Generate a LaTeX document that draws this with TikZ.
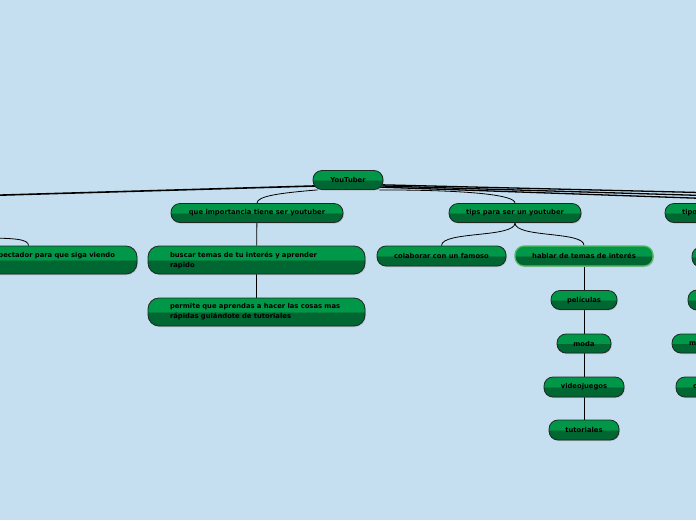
\documentclass[tikz,border=0pt]{standalone}
\usepackage{fontspec}
\usepackage{tikz}
\usetikzlibrary{shadows, backgrounds}

\newfontfamily\mapfont{DejaVu Sans}
\definecolor{bgblue}{RGB}{197,223,241}
\definecolor{gtop}{RGB}{0,152,72}
\definecolor{gbot}{RGB}{0,102,50}
\definecolor{edgeline}{RGB}{28,40,34}
\definecolor{selgreen}{RGB}{86,186,96}
\pgfdeclareverticalshading{glossy}{100bp}{color(0bp)=(gbot); color(49.5bp)=(gbot); color(50.5bp)=(gtop); color(100bp)=(gtop)}

\tikzset{
  topic/.style={draw=edgeline, line width=0.8pt, rounded corners=9pt, shading=glossy,
    minimum height=19pt, inner xsep=4pt, inner ysep=0pt, text=black,
    font=\mapfont\bfseries\fontsize{6.8}{10}\selectfont,
    drop shadow={opacity=0.35, shadow xshift=0.8pt, shadow yshift=-1pt}},
  widetopic/.style={topic, minimum height=28pt, text width=173pt, inner xsep=22pt, rounded corners=11pt},
  link/.style={draw=black, line width=0.8pt},
  trunk/.style={draw=black, line width=1.6pt}
}

\begin{document}
\begin{tikzpicture}[x=1pt, y=-1pt]
\useasboundingbox (0,0) rectangle (696,520);

\node[topic, minimum width=70pt] (root) at (348,180) {YouTuber};

\node[topic, minimum width=172pt] (imp) at (257,213) {que importancia tiene ser youtuber};
\node[topic, minimum width=132pt] (tips) at (515,213) {tips para ser un youtuber};
\node[topic, text width=113pt, inner xsep=17pt, align=left] (kinds) at (738.5,213) {tipo};

\node[widetopic, align=right] (viewer) at (28.5,260) {\mbox{pectador para que siga viendo}\\\mbox{}};
\node[widetopic, align=left] (search) at (256.5,260) {\mbox{buscar temas de tu interés y aprender}\\rapido};
\node[widetopic, align=left] (learn) at (256.5,312) {\mbox{permite que aprendas a hacer las cosas mas}\\\mbox{rápidas guiándote de tutoriales}};

\node[topic, minimum width=129pt, minimum height=20pt] (collab) at (441.5,256) {colaborar con un famoso};
\node[topic, minimum width=138pt, minimum height=20pt, draw=selgreen, line width=1.2pt] (talk) at (584,256) {hablar de temas de interés};
\node[topic, minimum width=66pt] (films) at (584,300) {películas};
\node[topic, minimum width=54pt] (fashion) at (584,343.5) {moda};
\node[topic, minimum width=80pt, minimum height=20pt] (games) at (584,387) {videojuegos};
\node[topic, minimum width=70pt, minimum height=20pt] (tutos) at (584,430) {tutoriales};

% cut off at the right border
\node[topic, minimum width=80pt, minimum height=20pt] (kindA) at (732,257) {};
\node[topic, minimum width=80pt, minimum height=20pt] (kindB) at (728,300) {};
\node[topic, text width=66pt, inner xsep=17pt, align=left] (kindC) at (722,343.5) {m};
\node[topic, text width=66pt, inner xsep=17pt, align=left, minimum height=20pt] (kindD) at (726,387) {c};

\begin{scope}[on background layer]
\fill[bgblue] (0,0) rectangle (696,520);
\coordinate (westhub) at (-30,196);
\coordinate (viewerhub) at (-20,238);
\coordinate (easthubA) at (720,193);
\coordinate (easthubB) at (720,196);
\coordinate (easthubC) at (720,199);

\draw[trunk] ([yshift=-5pt]root.center) -- (westhub);
\draw[trunk, line width=1.3pt] ([yshift=-4pt]root.center) -- (easthubA);
\draw[trunk, line width=1.3pt] ([yshift=-5pt]root.center) -- (easthubB);
\draw[trunk, line width=1.3pt] ([yshift=-6pt]root.center) -- (easthubC);

\draw[link] (imp.north) .. controls (257,196) and (280,193) .. ([xshift=5pt]root.south west);
\draw[link] (tips.north) .. controls (515,195) and (470,190) .. ([xshift=-4pt]root.south east);
\draw[link] (viewerhub) .. controls (15,238) and (28.5,239) .. (viewer.north);

\draw[link] (imp) -- (search);
\draw[link] (search) -- (learn);
\draw[link] (tips.south) .. controls (515,238) and (441.5,231) .. (collab.north);
\draw[link] (tips.south) .. controls (515,238) and (584,231) .. (talk.north);
\draw[link] (talk) -- (films);
\draw[link] (films) -- (fashion);
\draw[link] (fashion) -- (games);
\draw[link] (games) -- (tutos);
\end{scope}
\end{tikzpicture}
\end{document}
